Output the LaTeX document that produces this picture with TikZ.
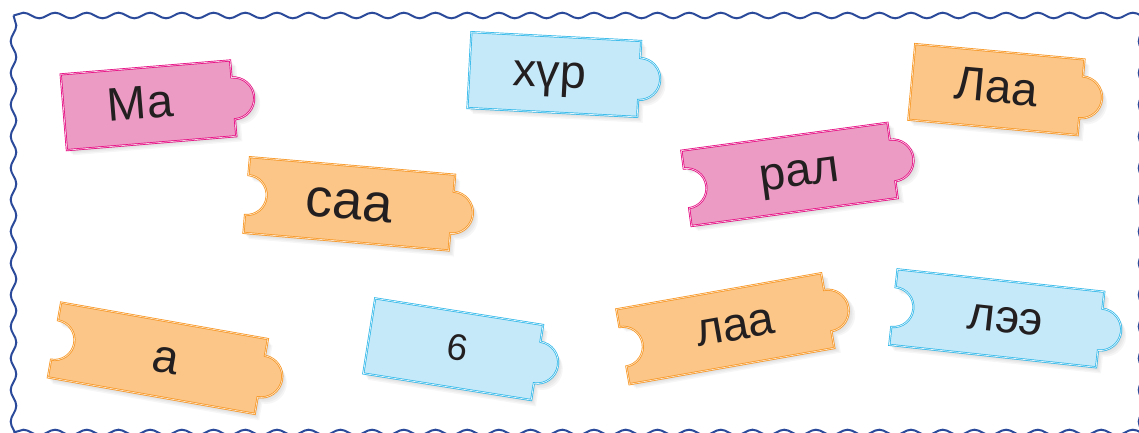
\documentclass[tikz,border=0pt]{standalone}
\usepackage{fontspec}
\setmainfont{Liberation Sans}
\usetikzlibrary{decorations.pathmorphing, positioning}

\definecolor{pinkfill}{HTML}{EC9BC4}
\definecolor{pinkline}{HTML}{E6007E}
\definecolor{orangefill}{HTML}{FBC688}
\definecolor{orangeline}{HTML}{F7941D}
\definecolor{bluefill}{HTML}{C6E9F9}
\definecolor{blueline}{HTML}{29B6E8}
\definecolor{framecol}{HTML}{2B4A9A}
\definecolor{inkcol}{HTML}{231F20}

% outline of one card: #1 options, #2 half width, #3 notch on the left (1/0)
\newcommand{\tileshape}[3]{%
  \ifnum#3=1
    \path[#1] (-#2,-38) -- (#2,-38) -- (#2,-21) arc[start angle=-90, end angle=90, radius=21]
      -- (#2,38) -- (-#2,38) -- (-#2,20) arc[start angle=90, end angle=-90, radius=20] -- cycle;
  \else
    \path[#1] (-#2,-38) -- (#2,-38) -- (#2,-21) arc[start angle=-90, end angle=90, radius=21]
      -- (#2,38) -- (-#2,38) -- cycle;
  \fi}

% #1 name, #2 centre, #3 angle, #4 half width, #5 notch, #6 colour, #7 font size, #8 text shift, #9 word
\newcommand{\tile}[9]{%
  \begin{scope}[shift={#2}, rotate=#3]
    \foreach \s in {1,...,4} {\tileshape{fill=black, opacity=0.035, shift={(\s*1.4,\s*1.4)}}{#4}{#5}}
    \tileshape{tile=#6}{#4}{#5}
    \node[word, font={\fontsize{#7}{#7}\selectfont}, rotate=#3] (#1) at (#8,0.28*#7) {#9};
  \end{scope}}

\begin{document}
\begin{tikzpicture}[
    x=1pt, y=-1pt,
    tile/.style={fill=#1fill, draw=#1line, line width=0.7, double=white!50!#1fill, double distance=0.7},
    word/.style={text=inkcol, inner sep=0pt, anchor=base},
    wave/.style={draw=framecol, line width=2, decorate, decoration={snake, segment length=31.7, amplitude=2.8}}
]
    \useasboundingbox (0,0) rectangle (1139,432);
    \clip (0,0) rectangle (1139,432);

    % wavy frame
    \draw[wave] (13.5,15.5) -- (1170,15.5);
    \draw[wave] (13.5,15.5) -- (13.5,460);
    \draw[wave] (13.5,432.5) -- (1170,432.5);
    \draw[wave] (1141.5,15.5) -- (1141.5,460);

    % cards
    \tile{ma}{(148.5,105.3)}{4.7}{85}{0}{pink}{47}{-8}{Ма}
    \tile{khur}{(554.3,74.5)}{-3}{85}{0}{blue}{47}{-5}{хүр}
    \tile{laaone}{(996.4,89.6)}{-5.2}{85}{0}{orange}{47}{0}{Лаа}
    \tile{saa}{(349.3,203.8)}{-4.9}{103}{1}{orange}{54}{0}{саа}
    \tile{ral}{(789.5,174.4)}{7.7}{104}{1}{pink}{47}{10}{рал}
    \tile{a}{(157.9,358.2)}{-10}{105}{1}{orange}{47}{8}{а}
    \tile{six}{(453.2,349.2)}{-9}{85}{0}{blue}{37}{4}{6}
    \tile{laatwo}{(725.3,328.7)}{10}{104}{1}{orange}{47}{10}{лаа}
    \tile{lee}{(996.8,318.3)}{-6.2}{104}{1}{blue}{47}{9}{лээ}
\end{tikzpicture}
\end{document}
